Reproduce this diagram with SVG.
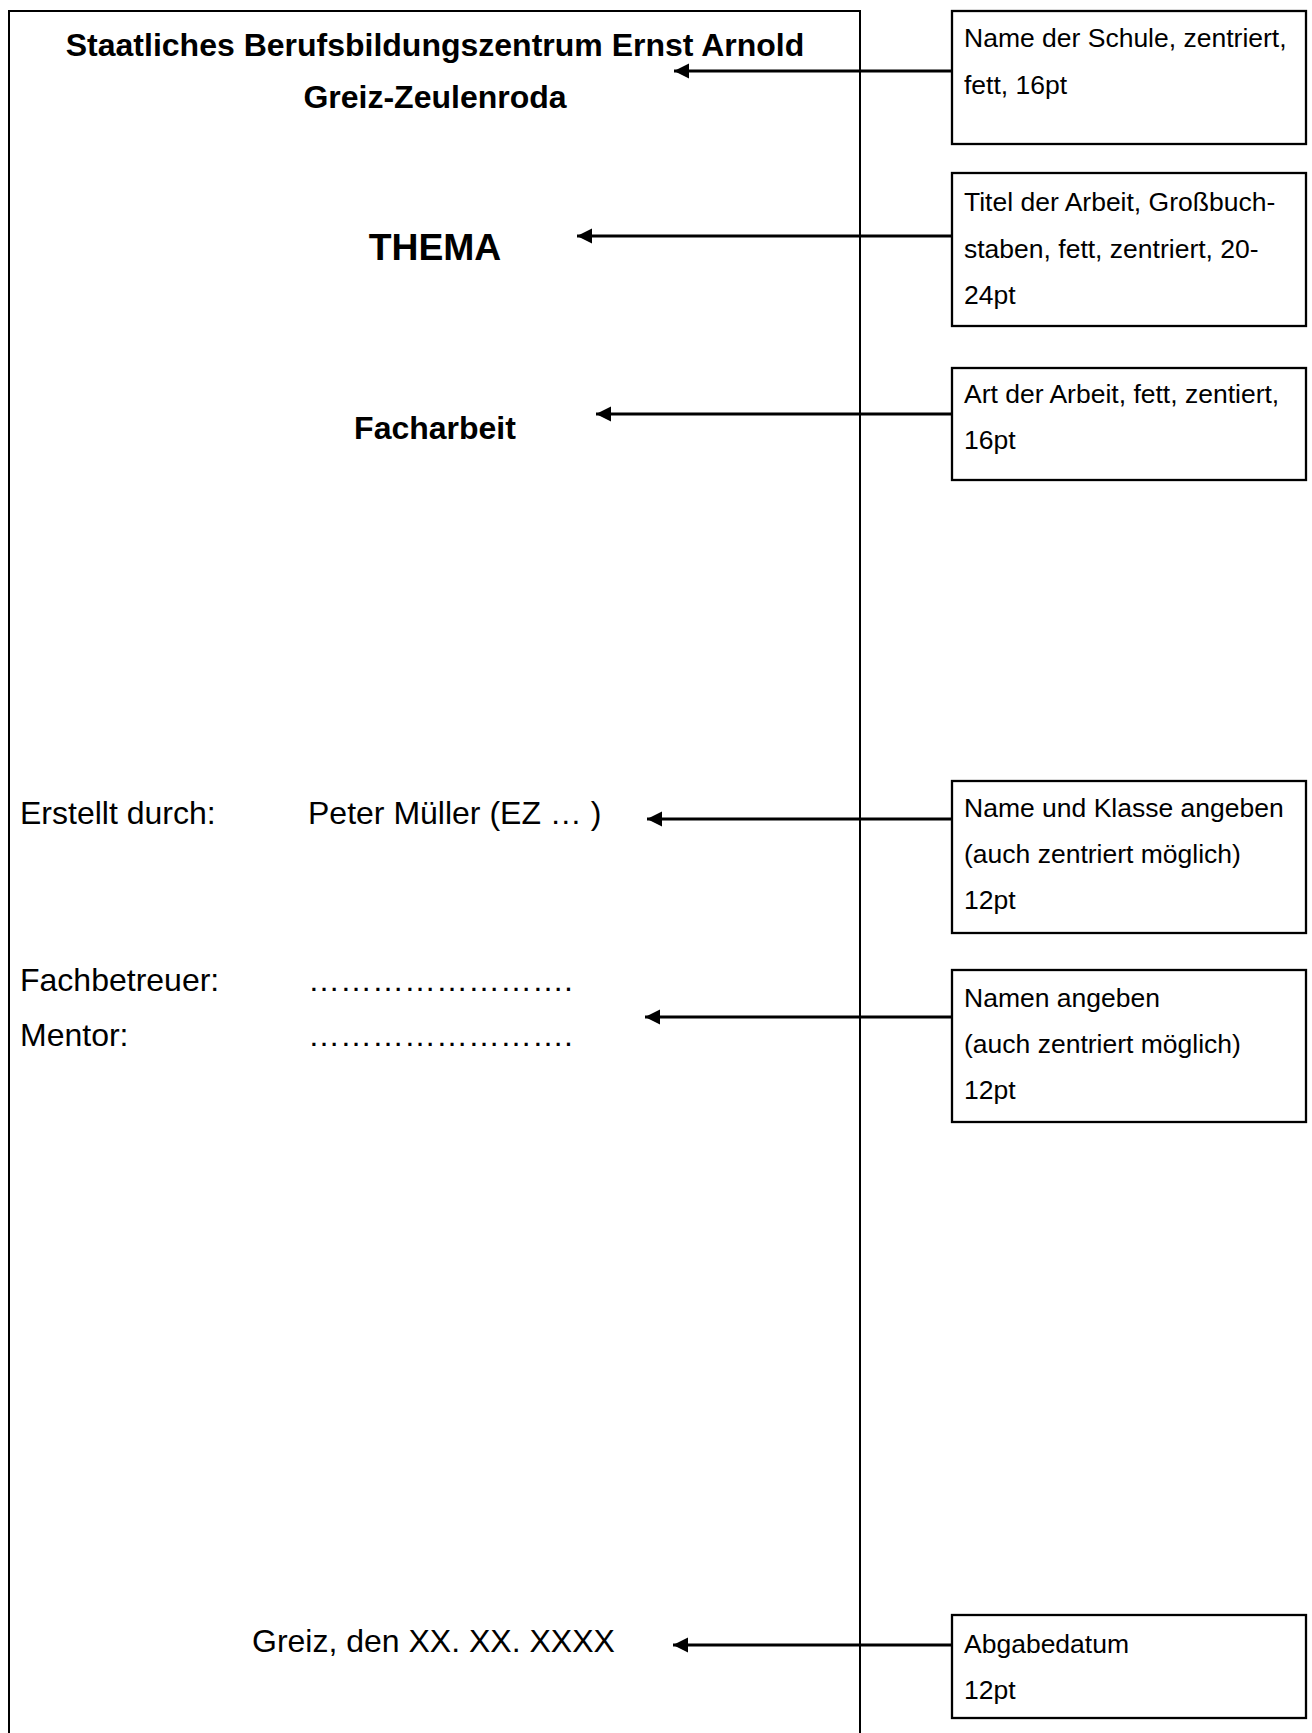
<svg xmlns="http://www.w3.org/2000/svg" width="1312" height="1733" viewBox="0 0 1312 1733">
<style>
.t{font-family:"Liberation Sans",Arial,sans-serif;fill:#000}
.b{font-weight:bold}
.body{font-size:32px}
.note{font-size:26.5px}
.box{fill:#fff;stroke:#000;stroke-width:2.3}
.page{fill:none;stroke:#000;stroke-width:2}
.conn{stroke:#000;stroke-width:3;fill:none;marker-end:url(#ah)}
</style>
<defs>
<marker id="ah" markerUnits="userSpaceOnUse" markerWidth="17" markerHeight="16" refX="15" refY="7.5" orient="auto">
<path d="M0,0 L15,7.5 L0,15 Z" fill="#000"/>
</marker>
</defs>
<rect width="1312" height="1733" fill="#fff"/>
<g id="page">
<path class="page" d="M9,1733 V11 H860 V1733"/>
</g>
<g id="connectors">
<line class="conn" x1="952" y1="71" x2="674" y2="71"/>
<line class="conn" x1="952" y1="236" x2="577" y2="236"/>
<line class="conn" x1="952" y1="414" x2="596" y2="414"/>
<line class="conn" x1="952" y1="819" x2="647" y2="819"/>
<line class="conn" x1="952" y1="1017" x2="645" y2="1017"/>
<line class="conn" x1="952" y1="1645" x2="673" y2="1645"/>
</g>
<g id="school">
<text class="t b body" x="435" y="56" text-anchor="middle">Staatliches Berufsbildungszentrum Ernst Arnold</text>
<text class="t b body" x="435" y="108" text-anchor="middle">Greiz-Zeulenroda</text>
</g>
<g id="thema">
<text class="t b" x="435" y="260" text-anchor="middle" font-size="37.3">THEMA</text>
</g>
<g id="art">
<text class="t b body" x="435" y="439" text-anchor="middle">Facharbeit</text>
</g>
<g id="ersteller">
<text class="t body" x="20" y="824">Erstellt durch:</text>
<text class="t body" x="308" y="824">Peter Müller (EZ &#8230; )</text>
</g>
<g id="betreuer">
<text class="t body" x="20" y="991">Fachbetreuer:</text>
<text class="t body" x="308" y="991">&#8230;&#8230;&#8230;&#8230;&#8230;&#8230;&#8230;&#8230;.</text>
<text class="t body" x="20" y="1046">Mentor:</text>
<text class="t body" x="308" y="1046">&#8230;&#8230;&#8230;&#8230;&#8230;&#8230;&#8230;&#8230;.</text>
</g>
<g id="datum">
<text class="t body" x="252" y="1652">Greiz, den XX. XX. XXXX</text>
</g>
<g id="note1">
<rect class="box" x="952" y="11" width="354" height="133"/>
<text class="t note" x="964" y="47">Name der Schule, zentriert,</text>
<text class="t note" x="964" y="94">fett, 16pt</text>
</g>
<g id="note2">
<rect class="box" x="952" y="173" width="354" height="153"/>
<text class="t note" x="964" y="211">Titel der Arbeit, Großbuch-</text>
<text class="t note" x="964" y="258">staben, fett, zentriert, 20-</text>
<text class="t note" x="964" y="304">24pt</text>
</g>
<g id="note3">
<rect class="box" x="952" y="368" width="354" height="112"/>
<text class="t note" x="964" y="403">Art der Arbeit, fett, zentiert,</text>
<text class="t note" x="964" y="449">16pt</text>
</g>
<g id="note4">
<rect class="box" x="952" y="781" width="354" height="152"/>
<text class="t note" x="964" y="817">Name und Klasse angeben</text>
<text class="t note" x="964" y="863">(auch zentriert möglich)</text>
<text class="t note" x="964" y="909">12pt</text>
</g>
<g id="note5">
<rect class="box" x="952" y="970" width="354" height="152"/>
<text class="t note" x="964" y="1007">Namen angeben</text>
<text class="t note" x="964" y="1053">(auch zentriert möglich)</text>
<text class="t note" x="964" y="1099">12pt</text>
</g>
<g id="note6">
<rect class="box" x="952" y="1615" width="354" height="103"/>
<text class="t note" x="964" y="1653">Abgabedatum</text>
<text class="t note" x="964" y="1699">12pt</text>
</g>
</svg>
